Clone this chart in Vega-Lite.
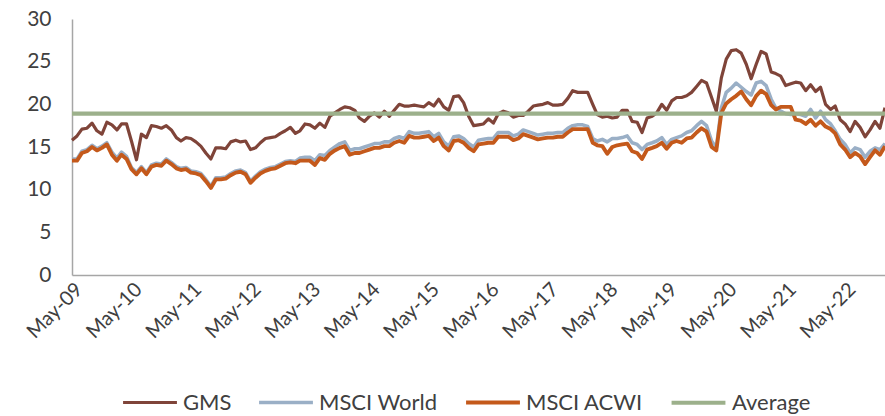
{
  "$schema": "https://vega.github.io/schema/vega-lite/v6.json",
  "width": 813,
  "height": 256,
  "autosize": {"type": "none"},
  "padding": {"left": 72, "top": 19, "right": 0, "bottom": 141},
  "background": "white",
  "config": {
    "view": {"stroke": null},
    "font": "Lato"
  },
  "data": {
    "values": [
      {"date": "2009-05-01", "GMS": 15.8, "MSCI World": 13.6, "MSCI ACWI": 13.4, "Average": 18.9},
      {"date": "2009-06-01", "GMS": 16.3, "MSCI World": 13.6, "MSCI ACWI": 13.4, "Average": 18.9},
      {"date": "2009-07-01", "GMS": 17.1, "MSCI World": 14.5, "MSCI ACWI": 14.3, "Average": 18.9},
      {"date": "2009-08-01", "GMS": 17.2, "MSCI World": 14.7, "MSCI ACWI": 14.5, "Average": 18.9},
      {"date": "2009-09-01", "GMS": 17.8, "MSCI World": 15.2, "MSCI ACWI": 15.0, "Average": 18.9},
      {"date": "2009-10-01", "GMS": 16.9, "MSCI World": 14.8, "MSCI ACWI": 14.6, "Average": 18.9},
      {"date": "2009-11-01", "GMS": 16.5, "MSCI World": 15.1, "MSCI ACWI": 14.9, "Average": 18.9},
      {"date": "2009-12-01", "GMS": 17.9, "MSCI World": 15.5, "MSCI ACWI": 15.3, "Average": 18.9},
      {"date": "2010-01-01", "GMS": 17.6, "MSCI World": 14.4, "MSCI ACWI": 14.1, "Average": 18.9},
      {"date": "2010-02-01", "GMS": 17.0, "MSCI World": 13.7, "MSCI ACWI": 13.4, "Average": 18.9},
      {"date": "2010-03-01", "GMS": 17.7, "MSCI World": 14.4, "MSCI ACWI": 14.1, "Average": 18.9},
      {"date": "2010-04-01", "GMS": 17.7, "MSCI World": 13.9, "MSCI ACWI": 13.6, "Average": 18.9},
      {"date": "2010-05-01", "GMS": 15.7, "MSCI World": 12.6, "MSCI ACWI": 12.4, "Average": 18.9},
      {"date": "2010-06-01", "GMS": 13.5, "MSCI World": 12.0, "MSCI ACWI": 11.8, "Average": 18.9},
      {"date": "2010-07-01", "GMS": 16.5, "MSCI World": 12.7, "MSCI ACWI": 12.5, "Average": 18.9},
      {"date": "2010-08-01", "GMS": 16.1, "MSCI World": 12.0, "MSCI ACWI": 11.8, "Average": 18.9},
      {"date": "2010-09-01", "GMS": 17.5, "MSCI World": 12.9, "MSCI ACWI": 12.7, "Average": 18.9},
      {"date": "2010-10-01", "GMS": 17.4, "MSCI World": 13.1, "MSCI ACWI": 12.9, "Average": 18.9},
      {"date": "2010-11-01", "GMS": 17.2, "MSCI World": 13.0, "MSCI ACWI": 12.8, "Average": 18.9},
      {"date": "2010-12-01", "GMS": 17.5, "MSCI World": 13.6, "MSCI ACWI": 13.4, "Average": 18.9},
      {"date": "2011-01-01", "GMS": 17.0, "MSCI World": 13.2, "MSCI ACWI": 13.0, "Average": 18.9},
      {"date": "2011-02-01", "GMS": 16.1, "MSCI World": 12.7, "MSCI ACWI": 12.5, "Average": 18.9},
      {"date": "2011-03-01", "GMS": 15.7, "MSCI World": 12.5, "MSCI ACWI": 12.3, "Average": 18.9},
      {"date": "2011-04-01", "GMS": 16.1, "MSCI World": 12.6, "MSCI ACWI": 12.4, "Average": 18.9},
      {"date": "2011-05-01", "GMS": 16.0, "MSCI World": 12.2, "MSCI ACWI": 12.0, "Average": 18.9},
      {"date": "2011-06-01", "GMS": 15.6, "MSCI World": 12.1, "MSCI ACWI": 11.9, "Average": 18.9},
      {"date": "2011-07-01", "GMS": 15.1, "MSCI World": 11.9, "MSCI ACWI": 11.7, "Average": 18.9},
      {"date": "2011-08-01", "GMS": 14.3, "MSCI World": 11.2, "MSCI ACWI": 11.0, "Average": 18.9},
      {"date": "2011-09-01", "GMS": 13.6, "MSCI World": 10.4, "MSCI ACWI": 10.2, "Average": 18.9},
      {"date": "2011-10-01", "GMS": 14.9, "MSCI World": 11.4, "MSCI ACWI": 11.2, "Average": 18.9},
      {"date": "2011-11-01", "GMS": 14.9, "MSCI World": 11.4, "MSCI ACWI": 11.2, "Average": 18.9},
      {"date": "2011-12-01", "GMS": 14.8, "MSCI World": 11.5, "MSCI ACWI": 11.3, "Average": 18.9},
      {"date": "2012-01-01", "GMS": 15.6, "MSCI World": 11.9, "MSCI ACWI": 11.7, "Average": 18.9},
      {"date": "2012-02-01", "GMS": 15.8, "MSCI World": 12.2, "MSCI ACWI": 12.0, "Average": 18.9},
      {"date": "2012-03-01", "GMS": 15.6, "MSCI World": 12.3, "MSCI ACWI": 12.1, "Average": 18.9},
      {"date": "2012-04-01", "GMS": 15.7, "MSCI World": 12.0, "MSCI ACWI": 11.8, "Average": 18.9},
      {"date": "2012-05-01", "GMS": 14.7, "MSCI World": 11.0, "MSCI ACWI": 10.8, "Average": 18.9},
      {"date": "2012-06-01", "GMS": 14.9, "MSCI World": 11.6, "MSCI ACWI": 11.4, "Average": 18.9},
      {"date": "2012-07-01", "GMS": 15.5, "MSCI World": 12.1, "MSCI ACWI": 11.9, "Average": 18.9},
      {"date": "2012-08-01", "GMS": 16.0, "MSCI World": 12.4, "MSCI ACWI": 12.2, "Average": 18.9},
      {"date": "2012-09-01", "GMS": 16.1, "MSCI World": 12.6, "MSCI ACWI": 12.4, "Average": 18.9},
      {"date": "2012-10-01", "GMS": 16.2, "MSCI World": 12.7, "MSCI ACWI": 12.5, "Average": 18.9},
      {"date": "2012-11-01", "GMS": 16.6, "MSCI World": 13.0, "MSCI ACWI": 12.8, "Average": 18.9},
      {"date": "2012-12-01", "GMS": 16.9, "MSCI World": 13.3, "MSCI ACWI": 13.1, "Average": 18.9},
      {"date": "2013-01-01", "GMS": 17.3, "MSCI World": 13.4, "MSCI ACWI": 13.2, "Average": 18.9},
      {"date": "2013-02-01", "GMS": 16.6, "MSCI World": 13.3, "MSCI ACWI": 13.1, "Average": 18.9},
      {"date": "2013-03-01", "GMS": 16.9, "MSCI World": 13.7, "MSCI ACWI": 13.4, "Average": 18.9},
      {"date": "2013-04-01", "GMS": 17.7, "MSCI World": 13.8, "MSCI ACWI": 13.4, "Average": 18.9},
      {"date": "2013-05-01", "GMS": 17.6, "MSCI World": 13.8, "MSCI ACWI": 13.4, "Average": 18.9},
      {"date": "2013-06-01", "GMS": 17.2, "MSCI World": 13.4, "MSCI ACWI": 12.9, "Average": 18.9},
      {"date": "2013-07-01", "GMS": 17.8, "MSCI World": 14.1, "MSCI ACWI": 13.7, "Average": 18.9},
      {"date": "2013-08-01", "GMS": 17.3, "MSCI World": 14.0, "MSCI ACWI": 13.5, "Average": 18.9},
      {"date": "2013-09-01", "GMS": 18.6, "MSCI World": 14.6, "MSCI ACWI": 14.2, "Average": 18.9},
      {"date": "2013-10-01", "GMS": 19.0, "MSCI World": 15.0, "MSCI ACWI": 14.6, "Average": 18.9},
      {"date": "2013-11-01", "GMS": 19.4, "MSCI World": 15.4, "MSCI ACWI": 14.9, "Average": 18.9},
      {"date": "2013-12-01", "GMS": 19.7, "MSCI World": 15.6, "MSCI ACWI": 15.1, "Average": 18.9},
      {"date": "2014-01-01", "GMS": 19.6, "MSCI World": 14.6, "MSCI ACWI": 14.1, "Average": 18.9},
      {"date": "2014-02-01", "GMS": 19.3, "MSCI World": 14.8, "MSCI ACWI": 14.3, "Average": 18.9},
      {"date": "2014-03-01", "GMS": 18.4, "MSCI World": 14.8, "MSCI ACWI": 14.3, "Average": 18.9},
      {"date": "2014-04-01", "GMS": 18.0, "MSCI World": 15.0, "MSCI ACWI": 14.5, "Average": 18.9},
      {"date": "2014-05-01", "GMS": 18.6, "MSCI World": 15.2, "MSCI ACWI": 14.7, "Average": 18.9},
      {"date": "2014-06-01", "GMS": 19.0, "MSCI World": 15.4, "MSCI ACWI": 14.9, "Average": 18.9},
      {"date": "2014-07-01", "GMS": 18.5, "MSCI World": 15.4, "MSCI ACWI": 14.9, "Average": 18.9},
      {"date": "2014-08-01", "GMS": 19.2, "MSCI World": 15.6, "MSCI ACWI": 15.1, "Average": 18.9},
      {"date": "2014-09-01", "GMS": 18.6, "MSCI World": 15.6, "MSCI ACWI": 15.1, "Average": 18.9},
      {"date": "2014-10-01", "GMS": 19.3, "MSCI World": 16.0, "MSCI ACWI": 15.5, "Average": 18.9},
      {"date": "2014-11-01", "GMS": 20.0, "MSCI World": 16.2, "MSCI ACWI": 15.7, "Average": 18.9},
      {"date": "2014-12-01", "GMS": 19.8, "MSCI World": 16.0, "MSCI ACWI": 15.5, "Average": 18.9},
      {"date": "2015-01-01", "GMS": 19.8, "MSCI World": 16.8, "MSCI ACWI": 16.3, "Average": 18.9},
      {"date": "2015-02-01", "GMS": 19.9, "MSCI World": 16.6, "MSCI ACWI": 16.1, "Average": 18.9},
      {"date": "2015-03-01", "GMS": 19.8, "MSCI World": 16.6, "MSCI ACWI": 16.1, "Average": 18.9},
      {"date": "2015-04-01", "GMS": 19.7, "MSCI World": 16.7, "MSCI ACWI": 16.2, "Average": 18.9},
      {"date": "2015-05-01", "GMS": 20.2, "MSCI World": 16.8, "MSCI ACWI": 16.3, "Average": 18.9},
      {"date": "2015-06-01", "GMS": 19.8, "MSCI World": 16.2, "MSCI ACWI": 15.7, "Average": 18.9},
      {"date": "2015-07-01", "GMS": 20.6, "MSCI World": 16.6, "MSCI ACWI": 16.1, "Average": 18.9},
      {"date": "2015-08-01", "GMS": 19.7, "MSCI World": 15.6, "MSCI ACWI": 15.1, "Average": 18.9},
      {"date": "2015-09-01", "GMS": 19.3, "MSCI World": 15.1, "MSCI ACWI": 14.6, "Average": 18.9},
      {"date": "2015-10-01", "GMS": 20.9, "MSCI World": 16.2, "MSCI ACWI": 15.7, "Average": 18.9},
      {"date": "2015-11-01", "GMS": 21.0, "MSCI World": 16.3, "MSCI ACWI": 15.8, "Average": 18.9},
      {"date": "2015-12-01", "GMS": 20.2, "MSCI World": 16.0, "MSCI ACWI": 15.5, "Average": 18.9},
      {"date": "2016-01-01", "GMS": 18.6, "MSCI World": 15.4, "MSCI ACWI": 14.9, "Average": 18.9},
      {"date": "2016-02-01", "GMS": 17.5, "MSCI World": 15.0, "MSCI ACWI": 14.5, "Average": 18.9},
      {"date": "2016-03-01", "GMS": 17.6, "MSCI World": 15.8, "MSCI ACWI": 15.3, "Average": 18.9},
      {"date": "2016-04-01", "GMS": 17.7, "MSCI World": 15.9, "MSCI ACWI": 15.4, "Average": 18.9},
      {"date": "2016-05-01", "GMS": 18.3, "MSCI World": 16.0, "MSCI ACWI": 15.5, "Average": 18.9},
      {"date": "2016-06-01", "GMS": 17.8, "MSCI World": 16.0, "MSCI ACWI": 15.5, "Average": 18.9},
      {"date": "2016-07-01", "GMS": 18.9, "MSCI World": 16.7, "MSCI ACWI": 16.2, "Average": 18.9},
      {"date": "2016-08-01", "GMS": 19.2, "MSCI World": 16.7, "MSCI ACWI": 16.2, "Average": 18.9},
      {"date": "2016-09-01", "GMS": 19.0, "MSCI World": 16.7, "MSCI ACWI": 16.2, "Average": 18.9},
      {"date": "2016-10-01", "GMS": 18.5, "MSCI World": 16.3, "MSCI ACWI": 15.8, "Average": 18.9},
      {"date": "2016-11-01", "GMS": 18.7, "MSCI World": 16.5, "MSCI ACWI": 16.0, "Average": 18.9},
      {"date": "2016-12-01", "GMS": 18.7, "MSCI World": 17.0, "MSCI ACWI": 16.5, "Average": 18.9},
      {"date": "2017-01-01", "GMS": 19.2, "MSCI World": 16.8, "MSCI ACWI": 16.3, "Average": 18.9},
      {"date": "2017-02-01", "GMS": 19.8, "MSCI World": 16.6, "MSCI ACWI": 16.1, "Average": 18.9},
      {"date": "2017-03-01", "GMS": 19.9, "MSCI World": 16.4, "MSCI ACWI": 15.9, "Average": 18.9},
      {"date": "2017-04-01", "GMS": 20.0, "MSCI World": 16.5, "MSCI ACWI": 16.0, "Average": 18.9},
      {"date": "2017-05-01", "GMS": 20.2, "MSCI World": 16.6, "MSCI ACWI": 16.1, "Average": 18.9},
      {"date": "2017-06-01", "GMS": 19.9, "MSCI World": 16.6, "MSCI ACWI": 16.1, "Average": 18.9},
      {"date": "2017-07-01", "GMS": 19.9, "MSCI World": 16.7, "MSCI ACWI": 16.2, "Average": 18.9},
      {"date": "2017-08-01", "GMS": 20.0, "MSCI World": 16.7, "MSCI ACWI": 16.2, "Average": 18.9},
      {"date": "2017-09-01", "GMS": 20.7, "MSCI World": 17.2, "MSCI ACWI": 16.7, "Average": 18.9},
      {"date": "2017-10-01", "GMS": 21.6, "MSCI World": 17.5, "MSCI ACWI": 17.1, "Average": 18.9},
      {"date": "2017-11-01", "GMS": 21.4, "MSCI World": 17.6, "MSCI ACWI": 17.1, "Average": 18.9},
      {"date": "2017-12-01", "GMS": 21.4, "MSCI World": 17.6, "MSCI ACWI": 17.1, "Average": 18.9},
      {"date": "2018-01-01", "GMS": 21.4, "MSCI World": 17.4, "MSCI ACWI": 17.1, "Average": 18.9},
      {"date": "2018-02-01", "GMS": 20.0, "MSCI World": 16.0, "MSCI ACWI": 15.5, "Average": 18.9},
      {"date": "2018-03-01", "GMS": 18.8, "MSCI World": 15.7, "MSCI ACWI": 15.2, "Average": 18.9},
      {"date": "2018-04-01", "GMS": 18.5, "MSCI World": 15.9, "MSCI ACWI": 15.1, "Average": 18.9},
      {"date": "2018-05-01", "GMS": 18.6, "MSCI World": 15.6, "MSCI ACWI": 14.2, "Average": 18.9},
      {"date": "2018-06-01", "GMS": 18.4, "MSCI World": 16.0, "MSCI ACWI": 15.0, "Average": 18.9},
      {"date": "2018-07-01", "GMS": 18.5, "MSCI World": 16.0, "MSCI ACWI": 15.2, "Average": 18.9},
      {"date": "2018-08-01", "GMS": 19.3, "MSCI World": 16.1, "MSCI ACWI": 15.3, "Average": 18.9},
      {"date": "2018-09-01", "GMS": 19.3, "MSCI World": 16.3, "MSCI ACWI": 15.4, "Average": 18.9},
      {"date": "2018-10-01", "GMS": 18.0, "MSCI World": 15.5, "MSCI ACWI": 14.5, "Average": 18.9},
      {"date": "2018-11-01", "GMS": 17.9, "MSCI World": 15.3, "MSCI ACWI": 14.3, "Average": 18.9},
      {"date": "2018-12-01", "GMS": 16.7, "MSCI World": 14.7, "MSCI ACWI": 13.6, "Average": 18.9},
      {"date": "2019-01-01", "GMS": 18.4, "MSCI World": 15.3, "MSCI ACWI": 14.7, "Average": 18.9},
      {"date": "2019-02-01", "GMS": 18.6, "MSCI World": 15.5, "MSCI ACWI": 14.9, "Average": 18.9},
      {"date": "2019-03-01", "GMS": 19.0, "MSCI World": 15.7, "MSCI ACWI": 15.1, "Average": 18.9},
      {"date": "2019-04-01", "GMS": 20.0, "MSCI World": 16.1, "MSCI ACWI": 15.5, "Average": 18.9},
      {"date": "2019-05-01", "GMS": 19.3, "MSCI World": 15.3, "MSCI ACWI": 14.8, "Average": 18.9},
      {"date": "2019-06-01", "GMS": 20.4, "MSCI World": 15.9, "MSCI ACWI": 15.5, "Average": 18.9},
      {"date": "2019-07-01", "GMS": 20.8, "MSCI World": 16.1, "MSCI ACWI": 15.7, "Average": 18.9},
      {"date": "2019-08-01", "GMS": 20.8, "MSCI World": 16.3, "MSCI ACWI": 15.5, "Average": 18.9},
      {"date": "2019-09-01", "GMS": 21.0, "MSCI World": 16.7, "MSCI ACWI": 16.0, "Average": 18.9},
      {"date": "2019-10-01", "GMS": 21.4, "MSCI World": 16.9, "MSCI ACWI": 16.1, "Average": 18.9},
      {"date": "2019-11-01", "GMS": 22.1, "MSCI World": 17.5, "MSCI ACWI": 16.7, "Average": 18.9},
      {"date": "2019-12-01", "GMS": 22.8, "MSCI World": 18.0, "MSCI ACWI": 17.2, "Average": 18.9},
      {"date": "2020-01-01", "GMS": 22.5, "MSCI World": 17.5, "MSCI ACWI": 16.8, "Average": 18.9},
      {"date": "2020-02-01", "GMS": 20.8, "MSCI World": 15.7, "MSCI ACWI": 15.0, "Average": 18.9},
      {"date": "2020-03-01", "GMS": 19.2, "MSCI World": 14.9, "MSCI ACWI": 14.6, "Average": 18.9},
      {"date": "2020-04-01", "GMS": 23.1, "MSCI World": 19.6, "MSCI ACWI": 19.0, "Average": 18.9},
      {"date": "2020-05-01", "GMS": 25.3, "MSCI World": 21.4, "MSCI ACWI": 20.1, "Average": 18.9},
      {"date": "2020-06-01", "GMS": 26.3, "MSCI World": 21.9, "MSCI ACWI": 20.6, "Average": 18.9},
      {"date": "2020-07-01", "GMS": 26.4, "MSCI World": 22.5, "MSCI ACWI": 21.0, "Average": 18.9},
      {"date": "2020-08-01", "GMS": 26.0, "MSCI World": 22.0, "MSCI ACWI": 21.5, "Average": 18.9},
      {"date": "2020-09-01", "GMS": 24.7, "MSCI World": 21.5, "MSCI ACWI": 20.6, "Average": 18.9},
      {"date": "2020-10-01", "GMS": 23.0, "MSCI World": 21.1, "MSCI ACWI": 19.9, "Average": 18.9},
      {"date": "2020-11-01", "GMS": 24.7, "MSCI World": 22.5, "MSCI ACWI": 21.0, "Average": 18.9},
      {"date": "2020-12-01", "GMS": 26.2, "MSCI World": 22.7, "MSCI ACWI": 21.6, "Average": 18.9},
      {"date": "2021-01-01", "GMS": 25.9, "MSCI World": 22.2, "MSCI ACWI": 21.2, "Average": 18.9},
      {"date": "2021-02-01", "GMS": 23.8, "MSCI World": 20.6, "MSCI ACWI": 19.9, "Average": 18.9},
      {"date": "2021-03-01", "GMS": 23.6, "MSCI World": 19.6, "MSCI ACWI": 19.4, "Average": 18.9},
      {"date": "2021-04-01", "GMS": 23.3, "MSCI World": 19.2, "MSCI ACWI": 19.7, "Average": 18.9},
      {"date": "2021-05-01", "GMS": 22.2, "MSCI World": 18.9, "MSCI ACWI": 19.7, "Average": 18.9},
      {"date": "2021-06-01", "GMS": 22.4, "MSCI World": 18.8, "MSCI ACWI": 19.7, "Average": 18.9},
      {"date": "2021-07-01", "GMS": 22.6, "MSCI World": 18.9, "MSCI ACWI": 18.2, "Average": 18.9},
      {"date": "2021-08-01", "GMS": 22.5, "MSCI World": 18.8, "MSCI ACWI": 18.1, "Average": 18.9},
      {"date": "2021-09-01", "GMS": 21.6, "MSCI World": 18.6, "MSCI ACWI": 17.7, "Average": 18.9},
      {"date": "2021-10-01", "GMS": 22.3, "MSCI World": 19.4, "MSCI ACWI": 18.2, "Average": 18.9},
      {"date": "2021-11-01", "GMS": 21.5, "MSCI World": 18.4, "MSCI ACWI": 17.5, "Average": 18.9},
      {"date": "2021-12-01", "GMS": 22.0, "MSCI World": 19.2, "MSCI ACWI": 18.0, "Average": 18.9},
      {"date": "2022-01-01", "GMS": 20.0, "MSCI World": 18.2, "MSCI ACWI": 17.4, "Average": 18.9},
      {"date": "2022-02-01", "GMS": 19.4, "MSCI World": 17.7, "MSCI ACWI": 17.1, "Average": 18.9},
      {"date": "2022-03-01", "GMS": 19.8, "MSCI World": 16.9, "MSCI ACWI": 16.6, "Average": 18.9},
      {"date": "2022-04-01", "GMS": 18.2, "MSCI World": 15.9, "MSCI ACWI": 15.3, "Average": 18.9},
      {"date": "2022-05-01", "GMS": 17.7, "MSCI World": 15.3, "MSCI ACWI": 14.7, "Average": 18.9},
      {"date": "2022-06-01", "GMS": 16.8, "MSCI World": 14.3, "MSCI ACWI": 13.8, "Average": 18.9},
      {"date": "2022-07-01", "GMS": 18.0, "MSCI World": 14.9, "MSCI ACWI": 14.3, "Average": 18.9},
      {"date": "2022-08-01", "GMS": 17.3, "MSCI World": 14.7, "MSCI ACWI": 13.9, "Average": 18.9},
      {"date": "2022-09-01", "GMS": 16.2, "MSCI World": 13.8, "MSCI ACWI": 13.0, "Average": 18.9},
      {"date": "2022-10-01", "GMS": 17.0, "MSCI World": 14.5, "MSCI ACWI": 13.8, "Average": 18.9},
      {"date": "2022-11-01", "GMS": 18.0, "MSCI World": 14.9, "MSCI ACWI": 14.6, "Average": 18.9},
      {"date": "2022-12-01", "GMS": 17.2, "MSCI World": 14.7, "MSCI ACWI": 14.1, "Average": 18.9},
      {"date": "2023-01-01", "GMS": 19.6, "MSCI World": 15.4, "MSCI ACWI": 15.1, "Average": 18.9}
    ]
  },
  "transform": [
    {"fold": ["GMS", "MSCI World", "MSCI ACWI", "Average"], "as": ["series", "value"]}
  ],
  "mark": {"type": "line", "strokeJoin": "round", "strokeCap": "butt"},
  "encoding": {
    "x": {
      "field": "date",
      "type": "temporal",
      "scale": {"type": "utc", "nice": false},
      "axis": {
        "title": null,
        "values": [
          {"year": 2009, "month": 5, "date": 1, "utc": true},
          {"year": 2010, "month": 5, "date": 1, "utc": true},
          {"year": 2011, "month": 5, "date": 1, "utc": true},
          {"year": 2012, "month": 5, "date": 1, "utc": true},
          {"year": 2013, "month": 5, "date": 1, "utc": true},
          {"year": 2014, "month": 5, "date": 1, "utc": true},
          {"year": 2015, "month": 5, "date": 1, "utc": true},
          {"year": 2016, "month": 5, "date": 1, "utc": true},
          {"year": 2017, "month": 5, "date": 1, "utc": true},
          {"year": 2018, "month": 5, "date": 1, "utc": true},
          {"year": 2019, "month": 5, "date": 1, "utc": true},
          {"year": 2020, "month": 5, "date": 1, "utc": true},
          {"year": 2021, "month": 5, "date": 1, "utc": true},
          {"year": 2022, "month": 5, "date": 1, "utc": true}
        ],
        "labelExpr": "utcFormat(datum.value, '%b-%y')",
        "labelAngle": -45,
        "labelAlign": "right",
        "labelBaseline": "top",
        "labelFontSize": 20,
        "labelColor": "#404040",
        "labelPadding": 4,
        "labelOverlap": false,
        "labelFlush": false,
        "ticks": false,
        "grid": false,
        "domainColor": "#a6a6a6",
        "domainWidth": 1.5
      }
    },
    "y": {
      "field": "value",
      "type": "quantitative",
      "scale": {"domain": [0, 30], "nice": false, "zero": true},
      "axis": {
        "title": null,
        "values": [0, 5, 10, 15, 20, 25, 30],
        "labelFontSize": 21,
        "labelColor": "#404040",
        "labelPadding": 21,
        "ticks": false,
        "grid": false,
        "domainColor": "#a6a6a6",
        "domainWidth": 1.5
      }
    },
    "color": {
      "field": "series",
      "type": "nominal",
      "sort": null,
      "scale": {
        "domain": ["GMS", "MSCI World", "MSCI ACWI", "Average"],
        "range": ["#7f4439", "#9aafc6", "#c4591b", "#9cb08b"]
      },
      "legend": {
        "title": null,
        "orient": "none",
        "legendX": 49,
        "legendY": 354,
        "direction": "horizontal",
        "symbolType": "stroke",
        "symbolSize": 2900,
        "symbolStrokeWidth": 4,
        "labelFontSize": 22,
        "labelColor": "#404040",
        "labelOffset": 4,
        "columnPadding": 20,
        "padding": 0
      }
    },
    "strokeWidth": {
      "field": "series",
      "type": "nominal",
      "scale": {
        "domain": ["GMS", "MSCI World", "MSCI ACWI", "Average"],
        "range": [3.2, 4.2, 3.2, 4.2]
      },
      "legend": null
    }
  }
}
